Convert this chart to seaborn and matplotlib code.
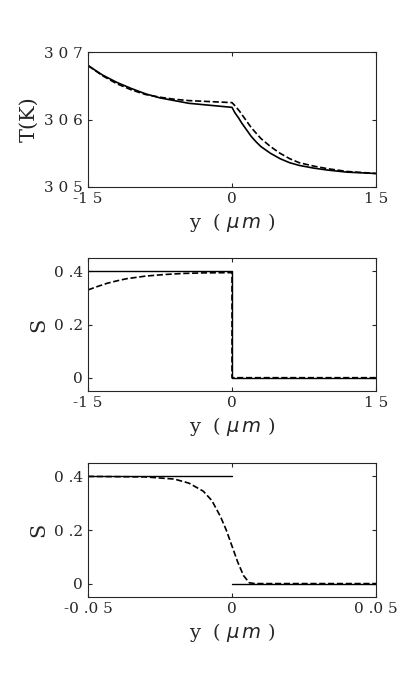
import matplotlib
matplotlib.use('Agg')
import matplotlib.pyplot as plt
import seaborn as sns

sns.set_style("ticks")
plt.rcParams["font.family"] = ["DejaVu Serif"]

# panel 1: temperature
T_y_solid = [-15, -13.5, -12, -10.5, -9, -7.5, -6, -4.5, -3, -1.5, 0, 0.3, 0.7, 1, 1.5, 2, 2.5, 3, 4, 5, 6, 7, 8.5, 10, 12, 15]
T_solid = [306.8, 306.66, 306.55, 306.46, 306.38, 306.32, 306.28, 306.24, 306.22, 306.2, 306.18, 306.1, 306.02, 305.95, 305.85, 305.75, 305.67, 305.6, 305.5, 305.42, 305.36, 305.32, 305.28, 305.25, 305.22, 305.2]
T_y_dash = [-15, -13.5, -12, -10.5, -9, -7.5, -6, -4.5, -3, -1.5, 0, 0.4, 0.8, 1.2, 1.6, 2, 2.5, 3, 4, 5, 6, 7, 8.5, 10, 12, 15]
T_dash = [306.8, 306.65, 306.53, 306.44, 306.37, 306.33, 306.3, 306.28, 306.27, 306.26, 306.25, 306.19, 306.12, 306.04, 305.96, 305.88, 305.8, 305.72, 305.6, 305.5, 305.42, 305.36, 305.31, 305.27, 305.23, 305.2]

# panel 2: S over wide range
S2_y_solid = [-15, 0, 0, 15]
S2_solid = [0.4, 0.4, 0.0, 0.0]
S2_y_dash = [-15, -14, -13, -12, -11, -10, -9, -7, -5, -3, 0, 0, 15]
S2_dash = [0.33, 0.343, 0.355, 0.364, 0.372, 0.377, 0.382, 0.388, 0.392, 0.394, 0.395, 0.0, 0.0]

# panel 3: S zoomed near interface
S3_y_left = [-0.05, 0]
S3_left = [0.4, 0.4]
S3_y_right = [0, 0.05]
S3_right = [0.0, 0.0]
S3_y_dash = [-0.05, -0.03, -0.02, -0.015, -0.01, -0.007, -0.004, -0.002, 0, 0.002, 0.004, 0.006, 0.008, 0.05]
S3_dash = [0.4, 0.398, 0.39, 0.375, 0.345, 0.31, 0.25, 0.2, 0.14, 0.08, 0.03, 0.003, 0.0, 0.0]

W, H = 415, 687
fig = plt.figure(figsize=(W / 100, H / 100), dpi=100)


def make_ax(top, bottom):
    ax = fig.add_axes([88 / W, 1 - bottom / H, (376 - 88) / W, (bottom - top) / H])
    for s in ax.spines.values():
        s.set_visible(True)
        s.set_linewidth(0.8)
    ax.tick_params(direction="in", top=True, right=True, labelsize=11, length=3)
    return ax


def line(ax, x, y, **kw):
    sns.lineplot(x=x, y=y, ax=ax, color="black", estimator=None, sort=False, **kw)


XLAB = "y  ( $\\mu\\,m$ )"

ax1 = make_ax(52, 187)
line(ax1, T_y_solid, T_solid, lw=1.2)
line(ax1, T_y_dash, T_dash, lw=1.2, ls="--")
ax1.set_xlim(-15, 15)
ax1.set_ylim(305, 307)
ax1.set_xticks([-15, 0, 15], ["-1 5", "0", "1 5"])
ax1.set_yticks([305, 306, 307], ["3 0 5", "3 0 6", "3 0 7"])
ax1.set_ylabel("T(K)", fontsize=15)
ax1.set_xlabel(XLAB, fontsize=14)

ax2 = make_ax(258, 391)
line(ax2, S2_y_solid, S2_solid, lw=1.0)
line(ax2, S2_y_dash, S2_dash, lw=1.2, ls="--")
ax2.set_xlim(-15, 15)
ax2.set_ylim(-0.05, 0.45)
ax2.set_xticks([-15, 0, 15], ["-1 5", "0", "1 5"])
ax2.set_yticks([0, 0.2, 0.4], ["0", "0 .2", "0 .4"])
ax2.set_ylabel("S", fontsize=15)
ax2.set_xlabel(XLAB, fontsize=14)

ax3 = make_ax(463, 597)
line(ax3, S3_y_left, S3_left, lw=1.0)
line(ax3, S3_y_right, S3_right, lw=1.0)
line(ax3, S3_y_dash, S3_dash, lw=1.2, ls="--")
ax3.set_xlim(-0.05, 0.05)
ax3.set_ylim(-0.05, 0.45)
ax3.set_xticks([-0.05, 0, 0.05], ["-0 .0 5", "0", "0 .0 5"])
ax3.set_yticks([0, 0.2, 0.4], ["0", "0 .2", "0 .4"])
ax3.set_ylabel("S", fontsize=15)
ax3.set_xlabel(XLAB, fontsize=14)

fig.savefig("out.png", dpi=100, facecolor="white")
